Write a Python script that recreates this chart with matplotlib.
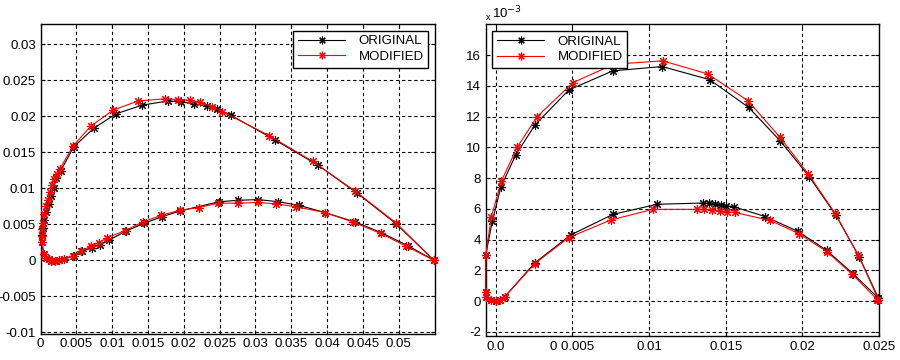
import matplotlib
matplotlib.use("Agg")
import matplotlib.pyplot as plt
from matplotlib.ticker import FixedLocator, FixedFormatter

plt.rcParams['font.family'] = ['Liberation Sans', 'DejaVu Sans']

# ---------------- Left panel data (x, y) ----------------
L_orig_up_x = [0.0002, 0.0002, 0.0003, 0.0005, 0.0008, 0.0011, 0.0014, 0.0018, 0.0022, 0.0028, 0.0046,
               0.0074, 0.0105, 0.0141, 0.0178, 0.0196, 0.0214, 0.0232, 0.0246, 0.0266, 0.0327, 0.0387,
               0.0442, 0.0497, 0.0549]
L_orig_up_y = [0.0025, 0.0035, 0.0045, 0.0056, 0.0067, 0.0078, 0.0089, 0.0100, 0.0114, 0.0124, 0.0157,
               0.0183, 0.0203, 0.0215, 0.0221, 0.0220, 0.0217, 0.0214, 0.0210, 0.0201, 0.0167, 0.0132,
               0.0093, 0.0050, 0.0]
L_orig_lo_x = [0.0002, 0.0004, 0.0007, 0.0011, 0.0015, 0.0020, 0.0026, 0.0032, 0.0046, 0.0058, 0.0071,
               0.0083, 0.0096, 0.0119, 0.0144, 0.0169, 0.0194, 0.0249, 0.0276, 0.0304, 0.0332, 0.0361,
               0.0397, 0.0439, 0.0476, 0.0513, 0.0549]
L_orig_lo_y = [0.0015, 0.0008, 0.0003, 0.0001, -0.0001, -0.0001, 0.0, 0.0001, 0.0006, 0.0012, 0.0017,
               0.0021, 0.0028, 0.0040, 0.0051, 0.0060, 0.0068, 0.0081, 0.0083, 0.0084, 0.0081, 0.0076,
               0.0066, 0.0053, 0.0038, 0.0020, 0.0]
L_mod_up_x = [0.0002, 0.0002, 0.0002, 0.0003, 0.0005, 0.0007, 0.0010, 0.0013, 0.0016, 0.0019, 0.0023,
              0.0027, 0.0045, 0.0070, 0.0101, 0.0136, 0.0174, 0.0192, 0.0208, 0.0222, 0.0239, 0.0254,
              0.0319, 0.0380, 0.0439, 0.0496, 0.0549]
L_mod_up_y = [0.0025, 0.0034, 0.0043, 0.0052, 0.0064, 0.0075, 0.0084, 0.0094, 0.0104, 0.0113, 0.0120,
              0.0127, 0.0158, 0.0186, 0.0208, 0.0221, 0.0224, 0.0223, 0.0222, 0.0219, 0.0213, 0.0206,
              0.0173, 0.0137, 0.0096, 0.0052, 0.0]
L_mod_lo_x = [0.0002, 0.0004, 0.0007, 0.0011, 0.0015, 0.0020, 0.0026, 0.0032, 0.0045, 0.0057, 0.0070,
              0.0081, 0.0093, 0.0118, 0.0143, 0.0168, 0.0194, 0.0221, 0.0248, 0.0276, 0.0303, 0.0329,
              0.0357, 0.0397, 0.0436, 0.0475, 0.0511, 0.0549]
L_mod_lo_y = [0.0015, 0.0008, 0.0003, 0.0001, -0.0001, -0.0001, 0.0, 0.0001, 0.0006, 0.0013, 0.0019,
              0.0024, 0.0031, 0.0041, 0.0053, 0.0062, 0.0069, 0.0073, 0.0079, 0.0079, 0.0080, 0.0078,
              0.0074, 0.0066, 0.0053, 0.0037, 0.0019, 0.0]

# ---------------- Right panel data (x, y) ----------------
R_orig_up_x = [-0.00065, -0.00022, 0.00033, 0.0013, 0.00256, 0.00477, 0.00764, 0.01085, 0.01395,
               0.01649, 0.01855, 0.02044, 0.02218, 0.0237, 0.02496]
R_orig_up_y = [0.0030, 0.0052, 0.0074, 0.0095, 0.01145, 0.01373, 0.01497, 0.01525, 0.01440,
               0.0126, 0.01043, 0.0081, 0.0056, 0.0029, 0.0002]
R_orig_lo_x = [-0.00065, -0.00065, -0.0006, -0.0003, 0.0, 0.0003, 0.0006, 0.00256, 0.00488, 0.00764,
               0.01053, 0.0135, 0.01393, 0.01428, 0.01469, 0.01502, 0.01552, 0.01758, 0.01971,
               0.02159, 0.02329, 0.02496]
R_orig_lo_y = [0.0030, 0.0006, 0.0003, 0.0001, 0.0, 0.0001, 0.0003, 0.0025, 0.0043, 0.00564,
               0.0063, 0.00638, 0.00636, 0.00634, 0.00628, 0.0062, 0.00614, 0.0055, 0.00454,
               0.0033, 0.0018, 0.0002]
R_mod_up_x = [-0.00065, -0.00028, 0.00037, 0.00141, 0.00271, 0.00503, 0.0077, 0.01089, 0.01384,
              0.01645, 0.01851, 0.0204, 0.02214, 0.02365, 0.02496]
R_mod_up_y = [0.0030, 0.0055, 0.0078, 0.01002, 0.0120, 0.0142, 0.0154, 0.01562, 0.01477,
              0.01303, 0.01069, 0.00826, 0.0057, 0.0030, 0.0001]
R_mod_lo_x = [-0.00065, -0.00065, -0.0006, -0.0003, 0.0, 0.0003, 0.0006, 0.00256, 0.00477, 0.00749,
              0.01024, 0.01313, 0.01361, 0.01411, 0.01465, 0.01508, 0.01558, 0.0179, 0.01975,
              0.02159, 0.02326, 0.02489]
R_mod_lo_y = [0.0030, 0.0006, 0.0003, 0.0001, 0.0, 0.0001, 0.0003, 0.00245, 0.00414, 0.00527,
              0.00597, 0.00597, 0.00597, 0.00592, 0.00586, 0.00581, 0.00577, 0.00525, 0.0044,
              0.00323, 0.00175, 0.0001]

labels = ["ORIGINAL", "MODIFIED"]
L_xticks = [0, 0.005, 0.01, 0.015, 0.02, 0.025, 0.03, 0.035, 0.04, 0.045, 0.05]
L_xticklabels = ["0", "0.005", "0.01", "0.015", "0.02", "0.025", "0.03", "0.035", "0.04", "0.045", "0.05"]
L_yticks = [-0.01, -0.005, 0, 0.005, 0.01, 0.015, 0.02, 0.025, 0.03]
L_yticklabels = ["-0.01", "-0.005", "0", "0.005", "0.01", "0.015", "0.02", "0.025", "0.03"]
R_xticks = [0, 0.005, 0.01, 0.015, 0.02, 0.025]
R_xticklabels = ["0.0", "0 0.005", "0.01", "0.015", "0.02", "0.025"]
R_yticks = [-0.002, 0, 0.002, 0.004, 0.006, 0.008, 0.010, 0.012, 0.014, 0.016]
R_yticklabels = ["-2", "0", "2", "4", "6", "8", "10", "12", "14", "16"]

MK = (8, 2, 0)
FS = 9.5

fig = plt.figure(figsize=(9, 3.6), dpi=100)
axL = fig.add_axes([0.0452, 0.0736, 0.438, 0.86])
axR = fig.add_axes([0.5397, 0.0667, 0.437, 0.866])


def closed(ux, uy, lx, ly):
    return list(ux[::-1]) + list(lx[1:]), list(uy[::-1]) + list(ly[1:])


def draw(ax, ou, ol, mu, ml):
    ox, oy = closed(ou[0], ou[1], ol[0], ol[1])
    mx, my = closed(mu[0], mu[1], ml[0], ml[1])
    ax.plot(ox, oy, color='black', lw=0.8, marker=MK, ms=6.5, mew=0.8, label=labels[0], clip_on=False, zorder=3)
    ax.plot(mx, my, color='red', lw=0.8, marker=MK, ms=6.5, mew=0.8, label=labels[1], clip_on=False, zorder=4)
    ax.grid(True, color='black', linestyle=(0, (3, 2.5)), lw=0.8)
    ax.tick_params(direction='in', length=3, labelsize=FS, width=0.8, top=True, right=True)
    for s in ax.spines.values():
        s.set_linewidth(1.0)


def legend(ax, loc):
    leg = ax.legend(loc=loc, fontsize=FS, frameon=True, fancybox=False, edgecolor='black',
                    borderaxespad=0.5, handlelength=3.6, handletextpad=1.0, labelspacing=0.25,
                    borderpad=0.35, markerscale=0.85, framealpha=1.0)
    leg.get_frame().set_linewidth(1.0)
    leg.set_zorder(10)
    return leg


draw(axL, (L_orig_up_x, L_orig_up_y), (L_orig_lo_x, L_orig_lo_y),
     (L_mod_up_x, L_mod_up_y), (L_mod_lo_x, L_mod_lo_y))
axL.set_xlim(0, 0.05507)
axL.set_ylim(-0.0102, 0.0328)
axL.xaxis.set_major_locator(FixedLocator(L_xticks))
axL.xaxis.set_major_formatter(FixedFormatter(L_xticklabels))
axL.yaxis.set_major_locator(FixedLocator(L_yticks))
axL.yaxis.set_major_formatter(FixedFormatter(L_yticklabels))
legend(axL, 'upper right')

draw(axR, (R_orig_up_x, R_orig_up_y), (R_orig_lo_x, R_orig_lo_y),
     (R_mod_up_x, R_mod_up_y), (R_mod_lo_x, R_mod_lo_y))
axR.set_xlim(-0.00065, 0.025)
axR.set_ylim(-0.00226, 0.018)
axR.xaxis.set_major_locator(FixedLocator(R_xticks))
axR.xaxis.set_major_formatter(FixedFormatter(R_xticklabels))
axR.yaxis.set_major_locator(FixedLocator(R_yticks))
axR.yaxis.set_major_formatter(FixedFormatter(R_yticklabels))
legend(axR, 'upper left')

axR.text(0.0, 1.008, 'x', transform=axR.transAxes, fontsize=6.5, ha='left', va='bottom')
axR.text(0.016, 1.008, r'10$^{-3}$', transform=axR.transAxes, fontsize=FS, ha='left', va='bottom')

fig.savefig('out.png', dpi=100, facecolor='white')
